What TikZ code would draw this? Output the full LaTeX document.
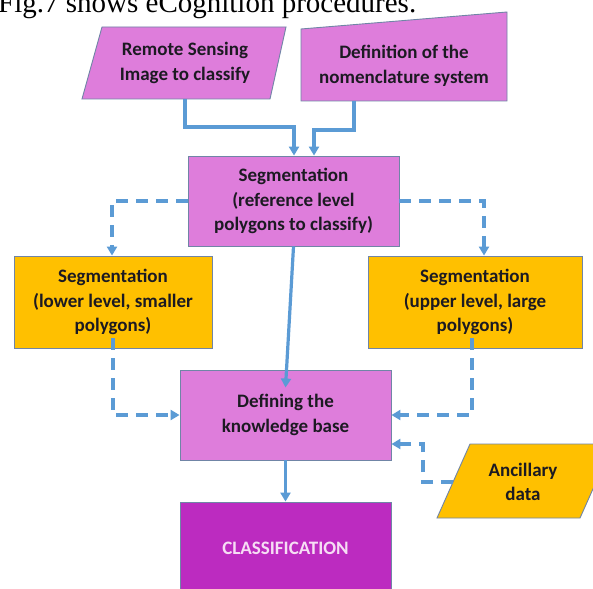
\documentclass[tikz,border=0pt]{standalone}
\usepackage{fontspec}
\setmainfont{Carlito}
\newfontfamily\capfont{Liberation Serif}
\usetikzlibrary{arrows.meta}
\definecolor{lmag}{HTML}{DE7DDB}
\definecolor{dmag}{HTML}{BC2BC0}
\definecolor{gold}{HTML}{FFC000}
\definecolor{bord}{HTML}{7085A6}
\definecolor{arr}{HTML}{5B9BD5}
\definecolor{txt}{HTML}{1C1A22}
\definecolor{ctxt}{HTML}{F6DDF4}
\tikzset{
  boxtxt/.style={font=\bfseries\fontsize{19}{24.5}\selectfont, text=txt, align=center},
  pbox/.style={boxtxt, draw=bord, line width=0.9pt, fill=lmag, inner sep=0pt},
  obox/.style={boxtxt, draw=bord, line width=0.9pt, fill=gold, inner sep=0pt},
  shapeline/.style={draw=bord, line width=0.9pt, line join=miter},
  solidarr/.style={draw=arr, line width=3.2pt, -{Triangle[length=9pt,width=10pt]}},
  dasharr/.style={solidarr, dash pattern=on 12pt off 8pt},
}
\begin{document}
\begin{tikzpicture}[x=1pt,y=-1pt]
\useasboundingbox (0,0) rectangle (593,588);
\clip (0,0) rectangle (593,588);
\fill[white] (0,0) rectangle (593,588);
% caption (cut by the top edge)
\node[anchor=base west, inner sep=0pt, font=\capfont\fontsize{29}{34}\selectfont] (cap) at (-2,13) {Fig.7 shows eCognition procedures.};
% input shapes
\draw[shapeline, fill=lmag] (102,27) -- (286,27) -- (270,99) -- (82,99) -- cycle;
\node[boxtxt] (rs) at (185,63) {Remote Sensing\\Image to classify};
\draw[shapeline, fill=lmag] (301,29) -- (507,12) -- (507,101) -- (301,101) -- cycle;
\node[boxtxt] (def) at (404,66) {Definition of the\\nomenclature system};
\coordinate (rsb) at (185,99);
\coordinate (defb) at (354,101);
% boxes
\node[pbox, minimum width=211pt, minimum height=90pt] (seg) at (293.5,201) {Segmentation\\(reference level\\polygons to classify)};
\node[obox, minimum width=198pt, minimum height=92pt] (lo) at (113,302) {Segmentation\\(lower level, smaller\\polygons)};
\node[obox, minimum width=214pt, minimum height=92pt] (ro) at (475,302) {Segmentation\\(upper level, large\\polygons)};
\node[pbox, minimum width=211pt, minimum height=90pt] (kb) at (285.5,415) {Defining the\\knowledge base};
\node[draw=bord, line width=0.9pt, fill=dmag, inner sep=0pt, minimum width=211pt, minimum height=92pt,
      font=\bfseries\fontsize{19}{24}\selectfont, text=ctxt] (cl) at (285.5,548) {CLASSIFICATION};
% ancillary data
\draw[shapeline, fill=gold] (470,444) -- (613,444) -- (580,518) -- (437,518) -- cycle;
\node[boxtxt] (anc) at (523,482) {Ancillary\\data};
\coordinate (ancw) at (453,482);
\coordinate (ancturn) at (423,444);
% connectors
\draw[solidarr] (rsb) |- (294,127) -- (seg.north -| 294,0);
\draw[solidarr] (defb) |- (314,130) -- (seg.north -| 314,0);
\draw[dasharr] (seg.west) -| ([xshift=-1pt]lo.north);
\draw[dasharr] (seg.east) -| ([xshift=9pt]ro.north);
\draw[solidarr] (seg.south) -- ([yshift=-18pt]kb.north);
\draw[dasharr] ([yshift=10pt]lo.south) |- (kb.west);
\draw[dasharr] ([xshift=-3pt,yshift=10pt]ro.south) |- (kb.east);
\draw[dasharr] (ancw) -| (ancturn) -- (ancturn -| kb.east);
\draw[solidarr] (kb.south) -- (cl.north);
\end{tikzpicture}
\end{document}
